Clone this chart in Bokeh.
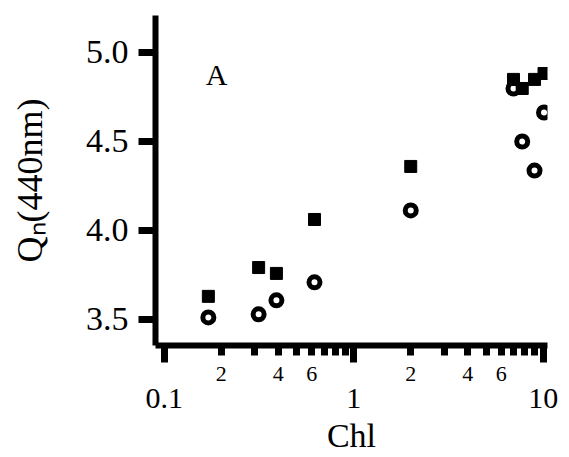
import math
from bokeh.plotting import figure
from bokeh.models import (FixedTicker, CustomJSTickFormatter, PrintfTickFormatter,
                          Label, LogAxis, Range1d)
from bokeh.embed import file_html
from bokeh.resources import INLINE

# ---------------- data ----------------
chl = [0.171, 0.315, 0.391, 0.621, 2.0, 6.97, 7.75, 9.0, 10.1]
qn_squares = [3.628, 3.790, 3.757, 4.060, 4.358, 4.847, 4.796, 4.847, 4.880]
qn_circles = [3.510, 3.527, 3.606, 3.707, 4.111, 4.796, 4.498, 4.335, 4.661]

x_major_ticks = [0.1, 1, 10]
x_major_labels = ["0.1", "1", "10"]
x_minor_ticks = [0.2, 0.3, 0.4, 0.5, 0.6, 0.7, 0.8, 0.9, 2, 3, 4, 5, 6, 7, 8, 9]
x_minor_label_pos = [0.2, 0.4, 0.6, 2, 4, 6]
x_minor_label_txt = ["2", "4", "6", "2", "4", "6"]
y_ticks = [3.5, 4.0, 4.5, 5.0]

FONT = "Liberation Serif"

# ---------------- geometry ----------------
W, H = 566, 457
X0, X1 = 10 ** -1.0459, 10 ** 1.0227
Y0, Y1 = 3.352, 5.206
ML, MR, MT, MB = 155, 19, 15, 112

p = figure(width=W, height=H, x_axis_type="log",
           x_range=Range1d(X0, X1), y_range=Range1d(Y0, Y1),
           output_backend="svg", toolbar_location=None,
           min_border_left=ML, min_border_right=MR,
           min_border_top=MT, min_border_bottom=MB)
p.outline_line_color = None
p.xgrid.visible = False
p.ygrid.visible = False
p.background_fill_color = "white"
p.border_fill_color = "white"

LOOKUP = """
let best = 0;
for (let i = 0; i < pos.length; i++) {
  if (Math.abs(Math.log10(pos[i]) - Math.log10(tick)) <
      Math.abs(Math.log10(pos[best]) - Math.log10(tick))) best = i;
}
return txt[best];
"""

# ---- x axis 1: line + tick marks (no labels)
xa = p.xaxis[0]
xa.ticker = FixedTicker(ticks=x_major_ticks, minor_ticks=x_minor_ticks)
xa.formatter = CustomJSTickFormatter(code="return ''")
xa.axis_line_width = 6
xa.axis_line_color = "black"
xa.major_tick_line_width = 7
xa.major_tick_out = 17
xa.major_tick_in = 0
xa.minor_tick_line_width = 7
xa.minor_tick_out = 10
xa.minor_tick_in = 0
xa.major_label_text_font_size = "1px"
xa.major_label_standoff = 0

# ---- x axis 2: small labels of the minor ticks (2, 4, 6)
xb = LogAxis(ticker=FixedTicker(ticks=x_minor_label_pos, minor_ticks=[]),
             formatter=CustomJSTickFormatter(args=dict(pos=x_minor_label_pos, txt=x_minor_label_txt), code=LOOKUP))
xb.axis_line_color = None
xb.major_tick_line_color = None
xb.minor_tick_line_color = None
xb.major_tick_out = 0
xb.major_tick_in = 0
xb.minor_tick_out = 0
xb.minor_tick_in = 0
xb.major_label_text_font = FONT
xb.major_label_text_font_size = "22px"
xb.major_label_text_color = "black"
xb.major_label_standoff = 4
p.add_layout(xb, "below")

# ---- x axis 3: decade labels and the axis title
xc = LogAxis(ticker=FixedTicker(ticks=x_major_ticks, minor_ticks=[]),
             formatter=CustomJSTickFormatter(args=dict(pos=x_major_ticks, txt=x_major_labels), code=LOOKUP))
xc.axis_line_color = None
xc.major_tick_line_color = None
xc.minor_tick_line_color = None
xc.major_tick_out = 0
xc.major_tick_in = 0
xc.minor_tick_out = 0
xc.minor_tick_in = 0
xc.major_label_text_font = FONT
xc.major_label_text_font_size = "30px"
xc.major_label_text_color = "black"
xc.major_label_standoff = 5
xc.axis_label = "Chl"
xc.axis_label_text_font = FONT
xc.axis_label_text_font_size = "34px"
xc.axis_label_text_font_style = "normal"
xc.axis_label_text_color = "black"
xc.axis_label_standoff = 6
p.add_layout(xc, "below")

# ---- y axis
ya = p.yaxis[0]
ya.ticker = FixedTicker(ticks=y_ticks)
ya.formatter = PrintfTickFormatter(format="%.1f")
ya.axis_line_width = 6
ya.axis_line_color = "black"
ya.major_tick_line_width = 7
ya.major_tick_out = 17
ya.major_tick_in = 0
ya.minor_tick_line_color = None
ya.major_label_text_font = FONT
ya.major_label_text_font_size = "34px"
ya.major_label_text_color = "black"
ya.major_label_standoff = 10
ya.axis_label = "Q\u2099(440nm)"
ya.axis_label_text_font = FONT
ya.axis_label_text_font_size = "36px"
ya.axis_label_text_font_style = "normal"
ya.axis_label_text_color = "black"
ya.axis_label_standoff = 33

# ---------------- marks ----------------
p.scatter(chl, qn_circles, marker="circle", size=11, fill_color="white",
          line_color="black", line_width=5)
p.scatter(chl, qn_squares, marker="square", size=12, fill_color="black",
          line_color="black", line_width=1)

# panel letter
p.add_layout(Label(x=0.189, y=4.875, text="A", text_font=FONT,
                   text_font_size="30px", text_align="center",
                   text_baseline="middle", text_color="black"))

open("out.html", "w").write(file_html(p, INLINE))
